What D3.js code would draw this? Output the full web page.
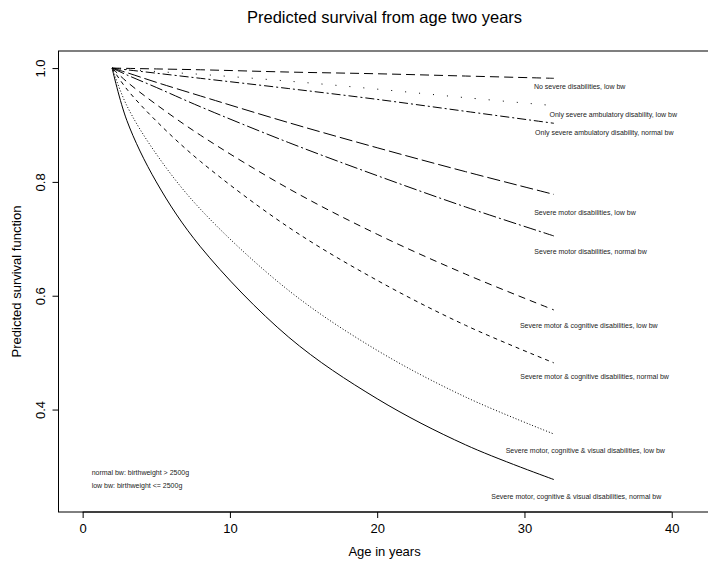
<!DOCTYPE html>
<html>
<head>
<meta charset="utf-8">
<script src="https://cdn.jsdelivr.net/npm/d3@7"></script>
<style>
  body { margin: 0; background: #fff; }
  svg { font-family: "Liberation Sans", Arial, Helvetica, sans-serif; }
</style>
</head>
<body>
<svg id="chart" width="708" height="565"></svg>
<script>
const ages = [2, 3, 5, 8, 14, 20, 26, 32];

const groups = [
  "No severe disabilities, low bw",
  "Only severe ambulatory disability, low bw",
  "Only severe ambulatory disability, normal bw",
  "Severe motor disabilities, low bw",
  "Severe motor disabilities, normal bw",
  "Severe motor & cognitive disabilities, low bw",
  "Severe motor & cognitive disabilities, normal bw",
  "Severe motor, cognitive & visual disabilities, low bw",
  "Severe motor, cognitive & visual disabilities, normal bw"
];

const survival = [
  [1, 0.9995, 0.9985, 0.997, 0.993, 0.990, 0.986, 0.982],
  [1, 0.998, 0.994, 0.989, 0.977, 0.963, 0.948, 0.934],
  [1, 0.997, 0.991, 0.982, 0.964, 0.945, 0.924, 0.903],
  [1, 0.992, 0.975, 0.951, 0.904, 0.860, 0.818, 0.778],
  [1, 0.988, 0.966, 0.932, 0.869, 0.811, 0.756, 0.705],
  [1, 0.976, 0.936, 0.882, 0.788, 0.708, 0.638, 0.575],
  [1, 0.963, 0.907, 0.836, 0.720, 0.627, 0.548, 0.482],
  [1, 0.934, 0.849, 0.752, 0.609, 0.504, 0.422, 0.357],
  [1, 0.908, 0.800, 0.686, 0.527, 0.419, 0.338, 0.277]
];

// where each label sits (age, survival), like text() in the original
const labelAge = [33.75, 36.03, 35.42, 34.11, 34.49, 34.37, 34.76, 34.13, 33.52];
const labelSurv = [0.967, 0.918, 0.887, 0.747, 0.677, 0.547, 0.458, 0.328, 0.248];

const notes = ["normal bw: birthweight > 2500g", "low bw: birthweight <= 2500g"];
const noteAge = 0.61;
const noteSurv = [0.289, 0.267];

const xTicks = [0, 10, 20, 30, 40];
const yTicks = [0.4, 0.6, 0.8, 1.0];

// line types, roughly like R's lty patterns
const dashes = ["9 5", "1 13", "9 3 2 3", "13 4", "13 3 2 3", "7 5", "4 4", "1 2", null];

const svg = d3.select("#chart");

const box = { left: 58.5, right: 710.6, top: 51, bottom: 512 };

// R style: 4% padding around xlim c(0,41) and ylim c(0.25,1)
const x = d3.scaleLinear().domain([-1.64, 42.64]).range([box.left, box.right]);
const y = d3.scaleLinear().domain([0.22, 1.03]).range([box.bottom, box.top]);

svg.append("text")
  .attr("x", (box.left + box.right) / 2)
  .attr("y", 23)
  .attr("text-anchor", "middle")
  .style("font-size", "16.5px")
  .text("Predicted survival from age two years");

svg.append("rect")
  .attr("x", box.left).attr("y", box.top)
  .attr("width", box.right - box.left).attr("height", box.bottom - box.top)
  .attr("fill", "none").attr("stroke", "#000").attr("stroke-width", 1);

const xAxis = svg.append("g")
  .attr("transform", `translate(0,${box.bottom})`)
  .call(d3.axisBottom(x).tickValues(xTicks).tickSize(6).tickPadding(6).tickFormat(d3.format("d")));
xAxis.selectAll("text").style("font-size", "13px").attr("fill", "#000");

const yAxis = svg.append("g")
  .attr("transform", `translate(${box.left},0)`)
  .call(d3.axisLeft(y).tickValues(yTicks).tickSize(6).tickFormat(d3.format(".1f")));
yAxis.selectAll("text")
  .style("font-size", "13px")
  .attr("fill", "#000")
  .attr("text-anchor", "middle")
  .attr("transform", "translate(-18.5,0) rotate(-90)")
  .attr("x", 0).attr("y", 0).attr("dy", "0.35em");

[xAxis, yAxis].forEach(a => {
  a.select(".domain").remove();
  a.selectAll("line").attr("stroke", "#000");
});

// axis lines only run from first to last tick, as in R
svg.append("line")
  .attr("x1", x(xTicks[0])).attr("x2", x(xTicks[xTicks.length - 1]))
  .attr("y1", box.bottom).attr("y2", box.bottom).attr("stroke", "#000");
svg.append("line")
  .attr("x1", box.left).attr("x2", box.left)
  .attr("y1", y(yTicks[0])).attr("y2", y(yTicks[yTicks.length - 1])).attr("stroke", "#000");

svg.append("text")
  .attr("x", (box.left + box.right) / 2)
  .attr("y", 556)
  .attr("text-anchor", "middle")
  .style("font-size", "13px")
  .text("Age in years");

svg.append("text")
  .attr("transform", `translate(16,${(box.top + box.bottom) / 2}) rotate(-90)`)
  .attr("text-anchor", "middle")
  .attr("dy", "0.35em")
  .style("font-size", "13px")
  .text("Predicted survival function");

const line = d3.line()
  .x((d, i) => x(ages[i]))
  .y(d => y(d))
  .curve(d3.curveCatmullRom.alpha(0.5));

svg.append("g").selectAll("path")
  .data(survival)
  .join("path")
  .attr("d", line)
  .attr("fill", "none")
  .attr("stroke", "#000")
  .attr("stroke-width", 1)
  .attr("stroke-dasharray", (d, i) => dashes[i]);

svg.append("g").selectAll("text")
  .data(groups)
  .join("text")
  .attr("x", (d, i) => x(labelAge[i]))
  .attr("y", (d, i) => y(labelSurv[i]))
  .attr("dy", "0.35em")
  .attr("text-anchor", "middle")
  .style("font-size", "7px")
  .attr("fill", "#222")
  .text(d => d);

svg.append("g").selectAll("text")
  .data(notes)
  .join("text")
  .attr("x", x(noteAge))
  .attr("y", (d, i) => y(noteSurv[i]))
  .attr("dy", "0.35em")
  .style("font-size", "7px")
  .attr("fill", "#222")
  .text(d => d);
</script>
</body>
</html>
